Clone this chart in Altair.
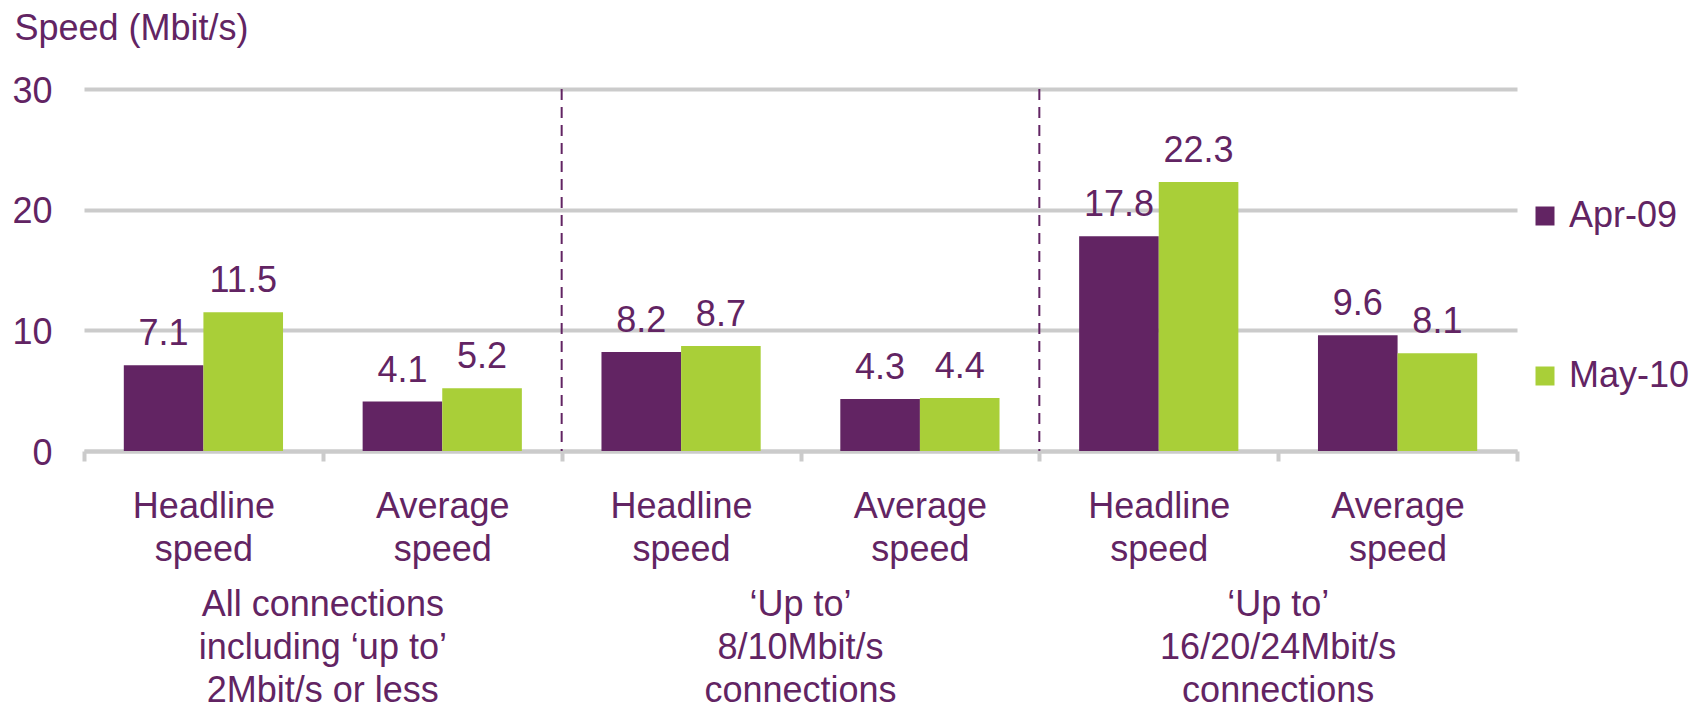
import altair as alt
import pandas as pd

purple = "#622463"
green = "#a9cf38"
grey = "#cbcbcb"
FONT = "Liberation Sans"

group_labels = [
    "All connections\nincluding \u2018up to\u2019\n2Mbit/s or less",
    "\u2018Up to\u2019\n8/10Mbit/s\nconnections",
    "\u2018Up to\u2019\n16/20/24Mbit/s\nconnections",
]
metrics = ["Headline speed", "Average speed"]
series = ["Apr-09", "May-10"]
apr09 = [7.1, 4.1, 8.2, 4.3, 17.8, 9.6]
may10 = [11.5, 5.2, 8.7, 4.4, 22.3, 8.1]
y_ticks = [0, 10, 20, 30]

keys = [f"{g} {m}" for g in range(len(group_labels)) for m in metrics]
rows = []
for i, k in enumerate(keys):
    rows.append({"key": k, "series": series[0], "value": apr09[i]})
    rows.append({"key": k, "series": series[1], "value": may10[i]})
df = pd.DataFrame(rows)
grp = pd.DataFrame({"key": [keys[1], keys[3], keys[5]], "label": group_labels})
div = pd.DataFrame({"key": [keys[2], keys[4]]})

x_scale = alt.Scale(domain=keys, paddingInner=0, paddingOuter=0)
x_axis = alt.Axis(
    title=None,
    labelExpr="split(slice(datum.label, 2), ' ')",
    labelFontSize=36,
    labelColor=purple,
    labelFont=FONT,
    labelLineHeight=43,
    labelPadding=28,
    labelAngle=0,
    tickSize=10,
    tickWidth=4,
    tickColor=grey,
    tickBand="extent",
    domainColor=grey,
    domainWidth=4,
    grid=False,
)
y_axis = alt.Axis(
    values=y_ticks,
    grid=True,
    gridColor=grey,
    gridWidth=4,
    domain=False,
    ticks=False,
    tickSize=0,
    labelFontSize=36,
    labelColor=purple,
    labelFont=FONT,
    labelPadding=32,
    labelOffset=2,
    title="Speed (Mbit/s)",
    titleAngle=0,
    titleX=-70,
    titleY=-50,
    titleAlign="left",
    titleBaseline="alphabetic",
    titleFontSize=36,
    titleFontWeight="normal",
    titleColor=purple,
    titleFont=FONT,
)

x = alt.X("key:N", scale=x_scale, axis=x_axis)
y = alt.Y("value:Q", scale=alt.Scale(domain=[0, 30], nice=False), axis=y_axis)
xoff = alt.XOffset("series:N", scale=alt.Scale(domain=series, paddingInner=0, paddingOuter=0.5))

bars = alt.Chart(df).mark_bar().encode(
    x=x,
    xOffset=xoff,
    y=y,
    color=alt.Color(
        "series:N",
        scale=alt.Scale(domain=series, range=[purple, green]),
        legend=alt.Legend(
            orient="none",
            legendX=1443,
            legendY=109,
            title=None,
            symbolType="square",
            symbolSize=361,
            symbolStrokeWidth=0,
            labelFontSize=36,
            labelColor=purple,
            labelFont=FONT,
            labelOffset=6,
            rowPadding=124,
            padding=0,
        ),
    ),
)

values = alt.Chart(df).mark_text(
    dy=-20, baseline="alphabetic", fontSize=36, color=purple, font=FONT
).encode(
    x=x,
    xOffset=xoff,
    y=y,
    text=alt.Text("value:Q", format=".1f"),
)

rules = alt.Chart(div).mark_rule(
    color=purple, strokeWidth=2, strokeDash=[11, 7]
).encode(
    x=alt.X("key:N", scale=x_scale, axis=x_axis, bandPosition=0),
)

gtext = alt.Chart(grp).mark_text(
    baseline="top", align="center", fontSize=36, color=purple, font=FONT,
    lineBreak="\n", lineHeight=43,
).encode(
    x=alt.X("key:N", scale=x_scale, axis=x_axis, bandPosition=0),
    y=alt.value(499),
    text="label:N",
)

chart = (
    alt.layer(bars, values, rules, gtext)
    .properties(
        width=1433,
        height=362,
        padding={"left": 76, "top": 81, "right": 179, "bottom": 259},
        autosize=alt.AutoSizeParams(type="none"),
        background="white",
    )
    .configure(font=FONT)
    .configure_view(stroke=None)
)

chart.save("out.html", embed_options={"renderer": "svg", "actions": False})
